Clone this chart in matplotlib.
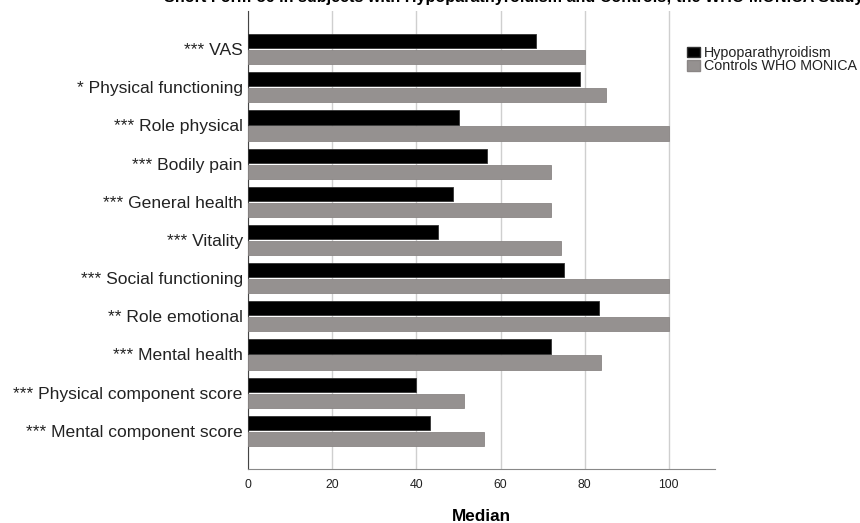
import matplotlib
matplotlib.use("Agg")
import matplotlib.pyplot as plt
import matplotlib.patches as mpatches
import numpy as np

plt.rcParams["font.family"] = ["Liberation Sans", "DejaVu Sans"]

categories = [
    "*** VAS",
    "* Physical functioning",
    "*** Role physical",
    "*** Bodily pain",
    "*** General health",
    "*** Vitality",
    "*** Social functioning",
    "** Role emotional",
    "*** Mental health",
    "*** Physical component score",
    "*** Mental component score",
]
hypopara = [68.5, 79, 50, 56.7, 48.6, 45.2, 75, 83.3, 72, 40, 43.2]
controls = [80, 85, 100, 72, 72, 74.3, 100, 100, 84, 51.3, 56.1]
xticks = [0, 20, 40, 60, 80, 100]

BLACK = "#000000"
GREY = "#959190"
TEXT = "#222222"

fig = plt.figure(figsize=(8.6, 5.23), dpi=100)
ax = fig.add_axes([0.2887, 0.1033, 0.8314 - 0.2887, 0.979 - 0.1033])

y = np.arange(len(categories))
h = 0.37
ax.barh(y - 0.21, hypopara, height=h, color=BLACK, edgecolor="#333333", linewidth=0.6, zorder=3)
ax.barh(y + 0.21, controls, height=h, color=GREY, edgecolor="#8a8685", linewidth=0.6, zorder=3)

ax.set_xlim(0, 111)
ax.set_ylim(11.0, -1.0)
ax.set_yticks(y)
ax.set_yticklabels(categories, fontsize=12.6, color=TEXT)
ax.set_xticks(xticks)
ax.set_xticklabels([str(t) for t in xticks], fontsize=8.8, color=TEXT)
ax.tick_params(axis="both", length=0)
ax.tick_params(axis="y", pad=4)
ax.tick_params(axis="x", pad=7)

ax.grid(axis="x", color="#cfcfcf", linewidth=1.0, zorder=0)
ax.set_axisbelow(True)
for side in ("top", "right"):
    ax.spines[side].set_visible(False)
ax.spines["left"].set_color("#444444")
ax.spines["bottom"].set_color("#888888")

ax.set_xlabel("Median", fontsize=12.3, fontweight="bold", labelpad=13)

fig.text(0.597, 1.004,
         "Short Form-36 in subjects with Hypoparathyroidism and Controls; the WHO MONICA Study",
         ha="center", va="center", fontsize=11.6, fontweight="bold")

handles = [
    mpatches.Patch(facecolor=BLACK, edgecolor="#333333", label="Hypoparathyroidism"),
    mpatches.Patch(facecolor=GREY, edgecolor="#8a8685", label="Controls WHO MONICA"),
]
fig.legend(handles=handles, loc="upper left", bbox_to_anchor=(0.799, 0.912),
           frameon=False, fontsize=10.3, handlelength=0.9, handleheight=0.75,
           handletextpad=0.3, labelspacing=-0.05, borderaxespad=0, borderpad=0,
           labelcolor=TEXT)

fig.savefig("out.png", dpi=100)
